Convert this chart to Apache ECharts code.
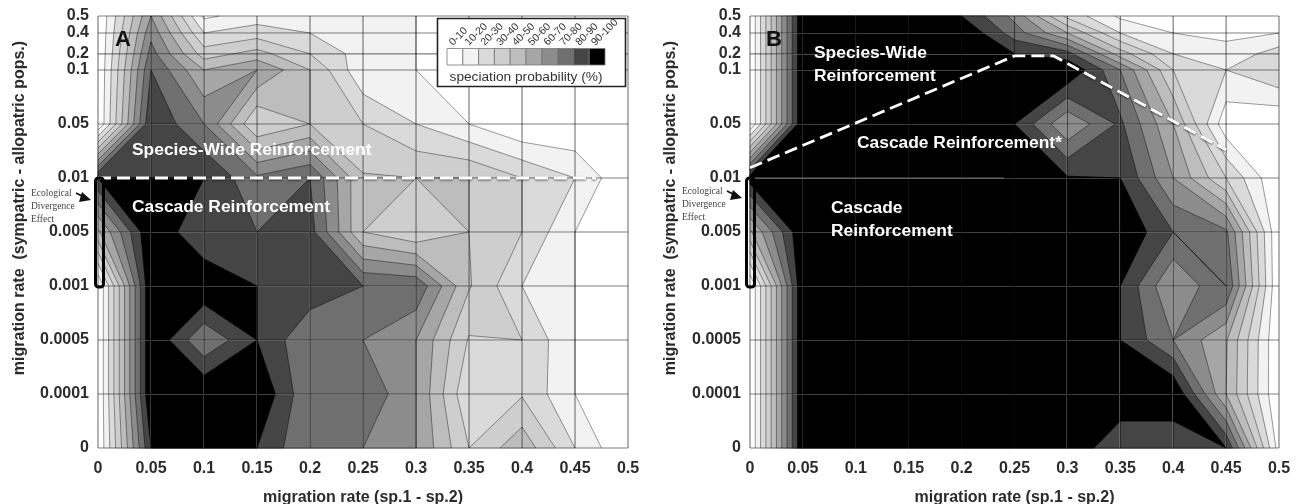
<!DOCTYPE html>
<html><head><meta charset="utf-8">
<script src="https://cdn.jsdelivr.net/npm/echarts@6/dist/echarts.min.js"></script>
<style>html,body{margin:0;padding:0;background:#fff}#c{width:1298px;height:504px}</style>
</head><body><div id="c"></div>
<script>
// x ticks: migration rate (sp.1 - sp.2)
const xTicks = [0,0.05,0.1,0.15,0.2,0.25,0.3,0.35,0.4,0.45,0.5];
// y axis is ordinal-like in the source figure: label text and its position on the axis
const yLabels = ['0','0.0001','0.0005','0.001','0.005','0.01','0.05','0.1','0.2','0.4','0.5'];
const yPositions = [0,1,2,3,4,5,6,7,7.3,7.685,8];
// speciation probability (%) at grid nodes; rows bottom to top, columns along xTicks
const valuesA = [
 [0,90,100,90,70,70,60,30,47,20,0],
 [0,100,100,100,71,79,60,21,29,10,0],
 [0,100,71,90,71,70,60,29,30,10,0],
 [0,100,100,90,87,80,78,41,20,10,0],
 [48,100,80,80,84,40,31,40,30,10,0],
 [90,90,90,72,80,41,40,40,30,20,0],
 [0,89,70,30,40,30,20,10,0,0,0],
 [0,80,50,60,40,12,10,5,5,5,5],
 [0,74,35,44,30,15,10,5,5,5,5],
 [0,67,20,25,20,15,10,5,5,5,5],
 [0,60,8,15,12,12,10,5,5,5,5]
];
const valuesB = [
 [0,100,100,100,100,100,100,80,80,90,5],
 [0,100,100,100,100,100,100,100,100,50,0],
 [0,100,100,100,100,100,100,90,70,51,0],
 [0,100,100,100,100,100,100,90,60,80,0],
 [48,100,100,100,100,100,100,100,80,72,0],
 [95,100,100,100,100,90,91,90,60,30,0],
 [0,100,100,100,100,90,61,82,50,3,0],
 [0,100,100,100,100,100,100,70,30,20,30],
 [0,100,100,100,100,90,84,45,20,13,25],
 [0,100,100,100,100,75,50,20,10,8,10],
 [0,100,100,100,90,67,27,8,0,0,0]
];
const levels = [10,20,30,40,50,60,70,80,90];
const bandColors = ['#ffffff','#f2f2f2','#dadada','#cecece','#bdbdbd','#a6a6a6','#8c8c8c','#6f6f6f','#454545','#000000'];
const bandLabels = ['0-10','10-20','20-30','30-40','40-50','50-60','60-70','70-80','80-90','90-100'];
// dashed boundaries: [migration rate, axis position]
const dashA = [[0,5],[0.47,5]];
const dashB = [[0,5.19],[0.25,7.26],[0.287,7.26],[0.45,5.52]];
const faintB = [[0,5],[0.24,5]];

const FONT = '"Liberation Sans", Arial, sans-serif';
const TXT = '#2b2b2b';

function cellCorners(api, m, i, j){
  const idx = [[i,j],[i+1,j],[i+1,j+1],[i,j+1]];
  return idx.map(function(p){
    const c = api.coord([xTicks[p[0]], yPositions[p[1]]]);
    return {x:c[0], y:c[1], v:m[p[1]][p[0]]};
  });
}
function lerp(a,b,L){
  const t=(L-a.v)/(b.v-a.v);
  return [a.x+(b.x-a.x)*t, a.y+(b.y-a.y)*t];
}
function clipAbove(q,L){
  const out=[];
  for(let k=0;k<4;k++){
    const a=q[k], b=q[(k+1)%4], ia=a.v>=L, ib=b.v>=L;
    if(ia) out.push([a.x,a.y]);
    if(ia!==ib) out.push(lerp(a,b,L));
  }
  return out;
}
function fillRenderer(m){
  return function(params, api){
    const q=cellCorners(api,m,api.value(2),api.value(3));
    const children=[{type:'polygon',silent:true,shape:{points:q.map(p=>[p.x,p.y])},style:{fill:bandColors[0],stroke:bandColors[0],lineWidth:0.5}}];
    levels.forEach(function(L,n){
      const pts=clipAbove(q,L);
      if(pts.length>=3) children.push({type:'polygon',silent:true,shape:{points:pts},style:{fill:bandColors[n+1],stroke:bandColors[n+1],lineWidth:0.6}});
    });
    return {type:'group',children:children};
  };
}
function lineRenderer(m){
  return function(params, api){
    const q=cellCorners(api,m,api.value(2),api.value(3));
    const children=[];
    levels.forEach(function(L){
      const cr=[];
      for(let k=0;k<4;k++){
        const a=q[k], b=q[(k+1)%4];
        if((a.v>=L)!==(b.v>=L)) cr.push(lerp(a,b,L));
      }
      const segs=[];
      if(cr.length===2) segs.push([cr[0],cr[1]]);
      if(cr.length===4){
        // saddle: the two high corners stay connected, as the filled band does
        if(q[0].v>=L){segs.push([cr[0],cr[1]]);segs.push([cr[2],cr[3]]);}
        else{segs.push([cr[3],cr[0]]);segs.push([cr[1],cr[2]]);}
      }
      segs.forEach(function(s){
        children.push({type:'polyline',silent:true,shape:{points:s},style:{fill:null,stroke:'rgba(0,0,0,0.42)',lineWidth:0.9}});
      });
    });
    return {type:'group',children:children};
  };
}
function gridRenderer(params, api){
  const vertical=api.value(2)===0;
  const a=vertical?api.coord([api.value(0),0]):api.coord([0,api.value(1)]);
  const b=vertical?api.coord([api.value(0),8]):api.coord([0.5,api.value(1)]);
  return {type:'line',silent:true,shape:{x1:a[0],y1:a[1],x2:b[0],y2:b[1]},style:{stroke:'rgba(0,0,0,0.5)',lineWidth:1.2}};
}
function cellData(){
  const d=[];
  for(let j=0;j<yPositions.length-1;j++) for(let i=0;i<xTicks.length-1;i++) d.push([xTicks[i],yPositions[j],i,j]);
  return d;
}
function gridData(){
  return xTicks.map(x=>[x,0,0]).concat(yPositions.map(y=>[0,y,1]));
}
function panelSeries(k,m,dash){
  const base={coordinateSystem:'cartesian2d',xAxisIndex:k,yAxisIndex:k,animation:false,silent:true};
  const enc={x:0,y:1};
  return [
    Object.assign({type:'custom',z:2,renderItem:fillRenderer(m),data:cellData(),encode:enc,clip:false},base),
    Object.assign({type:'custom',z:3,renderItem:lineRenderer(m),data:cellData(),encode:enc,clip:false},base),
    Object.assign({type:'custom',z:4,renderItem:gridRenderer,data:gridData(),encode:enc,clip:false},base),
    Object.assign({type:'line',z:5,data:dash,showSymbol:false,symbol:'none',lineStyle:{color:'#ffffff',width:2.8,type:[13,6],shadowColor:'rgba(0,0,0,0.55)',shadowBlur:2,shadowOffsetY:1}},base)
  ];
}
function xAxisOf(k){
  return {gridIndex:k,type:'value',min:0,max:0.5,interval:0.05,
    name:'migration rate (sp.1 - sp.2)',nameLocation:'middle',nameGap:42,
    nameTextStyle:{fontFamily:FONT,fontWeight:'bold',fontSize:16,color:TXT},
    axisLine:{show:false},axisTick:{show:false},splitLine:{show:false},
    axisLabel:{margin:13,fontFamily:FONT,fontWeight:'bold',fontSize:16,color:TXT,showMinLabel:true,showMaxLabel:true}};
}
function yAxisOf(k){
  return {gridIndex:k,type:'value',min:0,max:8,
    axisLine:{show:false},axisTick:{show:false},splitLine:{show:false},
    axisLabel:{margin:9,fontFamily:FONT,fontWeight:'bold',fontSize:16,color:TXT,
      customValues:yPositions,
      formatter:function(v){return yLabels[yPositions.indexOf(v)];}}};
}
function label(text,x,y,size,fill){
  return {type:'text',x:x,y:y,z:100,silent:true,style:{text:text,font:'bold '+size+'px '+FONT,fill:fill,textAlign:'left',textVerticalAlign:'middle'}};
}
function ecoNote(dx,dy){
  const serif='9.5px "Liberation Serif", serif';
  return [
    {type:'rect',z:100,silent:true,shape:{x:95.5+dx,y:178,width:8,height:109,r:3},style:{fill:'none',stroke:'#000',lineWidth:3}},
    {type:'text',z:100,silent:true,x:31+dx,y:193+dy,style:{text:'Ecological',font:serif,fill:'#444',textVerticalAlign:'middle'}},
    {type:'text',z:100,silent:true,x:31+dx,y:206+dy,style:{text:'Divergence',font:serif,fill:'#444',textVerticalAlign:'middle'}},
    {type:'text',z:100,silent:true,x:31+dx,y:219+dy,style:{text:'Effect',font:serif,fill:'#444',textVerticalAlign:'middle'}},
    {type:'line',z:100,silent:true,shape:{x1:76+dx,y1:193+dy,x2:84+dx,y2:197+dy},style:{stroke:'#111',lineWidth:1.6}},
    {type:'polygon',z:100,silent:true,shape:{points:[[91+dx,200+dy],[79+dx,202+dy],[82+dx,192+dy]]},style:{fill:'#111'}}
  ];
}
function yTitle(x){
  return {type:'text',z:100,silent:true,x:x,y:208,rotation:Math.PI/2,style:{text:'migration rate  (sympatric - allopatric pops.)',font:'bold 16px '+FONT,fill:TXT,textAlign:'center',textVerticalAlign:'middle'}};
}
function legend(){
  const els=[{type:'rect',z:100,silent:true,shape:{x:437.5,y:18.5,width:188,height:68},style:{fill:'#fff',stroke:'#222',lineWidth:1.6}}];
  bandColors.forEach(function(c,i){
    els.push({type:'rect',z:101,silent:true,shape:{x:447+i*15.8,y:48.5,width:15.8,height:16.5},style:{fill:c,stroke:'#777',lineWidth:0.8}});
    els.push({type:'text',z:101,silent:true,x:451+i*15.8,y:44,rotation:Math.PI/4,style:{text:bandLabels[i],font:'10.5px '+FONT,fill:'#333',textAlign:'left',textVerticalAlign:'middle'}});
  });
  els.push({type:'text',z:101,silent:true,x:526,y:77,style:{text:'speciation probability (%)',font:'13.7px '+FONT,fill:'#333',textAlign:'center',textVerticalAlign:'middle'}});
  return els;
}
const graphics=[].concat(
  [label('A',115,40,22,'#111'),label('B',766,40,22,'#111')],
  [label('Species-Wide Reinforcement',132,150,17.4,'#fff'),label('Cascade Reinforcement',132,207,17.4,'#fff')],
  [label('Species-Wide',814,53,17.4,'#fff'),label('Reinforcement',814,76,17.4,'#fff'),label('Cascade Reinforcement*',857,143,17.4,'#fff'),label('Cascade',831,208,17.4,'#fff'),label('Reinforcement',831,231,17.4,'#fff')],
  ecoNote(0,0),ecoNote(651,-2),[yTitle(20),yTitle(671)],legend()
);
const chart=echarts.init(document.getElementById('c'),null,{renderer:'canvas'});
chart.setOption({
  animation:false,backgroundColor:'#fff',
  grid:[{left:98,top:16,width:530,height:432,outerBoundsMode:'none'},{left:750,top:16,width:529,height:432,outerBoundsMode:'none'}],
  xAxis:[xAxisOf(0),xAxisOf(1)],
  yAxis:[yAxisOf(0),yAxisOf(1)],
  series:panelSeries(0,valuesA,dashA).concat(panelSeries(1,valuesB,dashB)).concat([
    {type:'line',z:4,xAxisIndex:1,yAxisIndex:1,data:faintB,showSymbol:false,symbol:'none',silent:true,animation:false,lineStyle:{color:'rgba(255,255,255,0.4)',width:1}}
  ]),
  graphic:{elements:graphics}
});
</script></body></html>
